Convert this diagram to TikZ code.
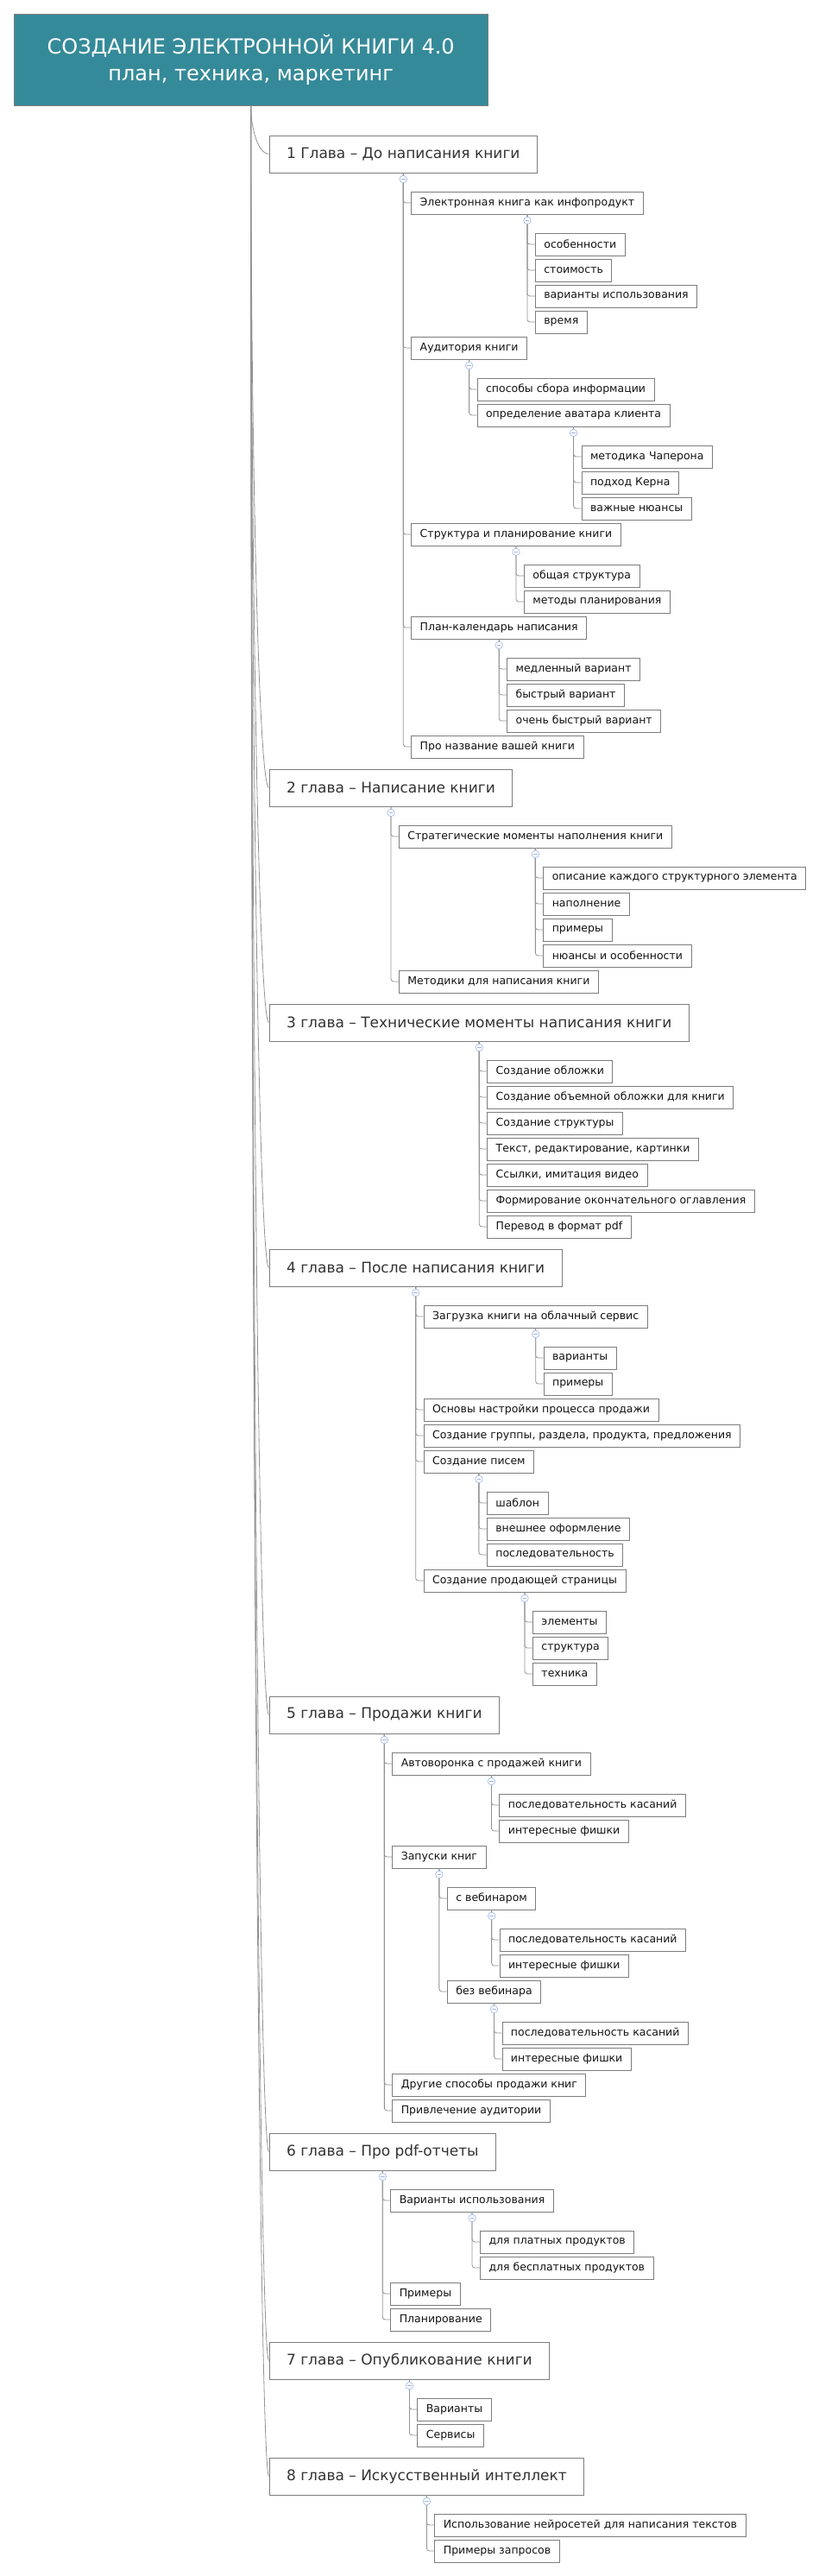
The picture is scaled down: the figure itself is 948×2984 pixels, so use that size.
\documentclass[tikz,border=0pt]{standalone}
\usepackage{fontspec}
\setmainfont{DejaVu Sans}
\usepackage{tikz}
\usetikzlibrary{calc}

\definecolor{rootteal}{HTML}{358A99}
\definecolor{boxline}{HTML}{7D7D7D}
\definecolor{linkgray}{HTML}{929292}
\definecolor{togblue}{HTML}{9DB3E6}
\definecolor{chaptext}{HTML}{333333}

\begin{document}
\begin{tikzpicture}[
  x=1pt, y=-1pt,
  rootbox/.style={draw=boxline, fill=rootteal, text=white, anchor=north west, minimum width=549pt, minimum height=106pt, align=center, font=\fontsize{24}{31}\selectfont},
  chap/.style={draw=boxline, line width=1pt, fill=white, anchor=north west, minimum height=43pt, inner xsep=20pt, inner ysep=0pt, text=chaptext, font=\fontsize{17}{20}\selectfont},
  sub/.style={draw=boxline, line width=0.9pt, fill=white, anchor=north west, xshift=9pt, minimum height=26pt, inner xsep=10pt, inner ysep=0pt, text=black!92, font=\fontsize{12.5}{15}\selectfont},
  trunk/.style={draw=linkgray, line width=0.8pt},
  branch/.style={draw=linkgray, line width=0.8pt, rounded corners=3pt},
  toggle/.style={circle, draw=togblue, fill=white, line width=0.6pt, minimum size=8.5pt, inner sep=0pt,
    path picture={\draw[togblue, line width=0.7pt] ([xshift=-2.3pt]path picture bounding box.center) -- ([xshift=2.3pt]path picture bounding box.center);}}
]
  \useasboundingbox (0,0) rectangle (948,2984);

  \node[rootbox] (root) at (16,16) {СОЗДАНИЕ ЭЛЕКТРОННОЙ КНИГИ 4.0\\план, техника, маркетинг};

  % 1
  \node[chap] (c1) at (311.6,156.5) {1 Глава – До написания книги};
  \node[sub] (c11) at (c1.south |- 0,221.5) {Электронная книга как инфопродукт};
  \node[sub] (c111) at (c11.south |- 0,269.5) {особенности};
  \node[sub] (c112) at (c11.south |- 0,299.5) {стоимость};
  \node[sub] (c113) at (c11.south |- 0,329.5) {варианты использования};
  \node[sub] (c114) at (c11.south |- 0,359.5) {время};
  \node[sub] (c12) at (c1.south |- 0,389.5) {Аудитория книги};
  \node[sub] (c121) at (c12.south |- 0,437.5) {способы сбора информации};
  \node[sub] (c122) at (c12.south |- 0,467.5) {определение аватара клиента};
  \node[sub] (c1221) at (c122.south |- 0,515.5) {методика Чаперона};
  \node[sub] (c1222) at (c122.south |- 0,545.5) {подход Керна};
  \node[sub] (c1223) at (c122.south |- 0,575.5) {важные нюансы};
  \node[sub] (c13) at (c1.south |- 0,605.5) {Структура и планирование книги};
  \node[sub] (c131) at (c13.south |- 0,653.5) {общая структура};
  \node[sub] (c132) at (c13.south |- 0,683.5) {методы планирования};
  \node[sub] (c14) at (c1.south |- 0,713.5) {План-календарь написания};
  \node[sub] (c141) at (c14.south |- 0,761.5) {медленный вариант};
  \node[sub] (c142) at (c14.south |- 0,791.5) {быстрый вариант};
  \node[sub] (c143) at (c14.south |- 0,821.5) {очень быстрый вариант};
  \node[sub] (c15) at (c1.south |- 0,851.5) {Про название вашей книги};

  % 2
  \node[chap] (c2) at (311.6,890.5) {2 глава – Написание книги};
  \node[sub] (c21) at (c2.south |- 0,955.5) {Стратегические моменты наполнения книги};
  \node[sub] (c211) at (c21.south |- 0,1003.5) {описание каждого структурного элемента};
  \node[sub] (c212) at (c21.south |- 0,1033.5) {наполнение};
  \node[sub] (c213) at (c21.south |- 0,1063.5) {примеры};
  \node[sub] (c214) at (c21.south |- 0,1093.5) {нюансы и особенности};
  \node[sub] (c22) at (c2.south |- 0,1123.5) {Методики для написания книги};

  % 3
  \node[chap] (c3) at (311.6,1162.5) {3 глава – Технические моменты написания книги};
  \node[sub] (c31) at (c3.south |- 0,1227.5) {Создание обложки};
  \node[sub] (c32) at (c3.south |- 0,1257.5) {Создание объемной обложки для книги};
  \node[sub] (c33) at (c3.south |- 0,1287.5) {Создание структуры};
  \node[sub] (c34) at (c3.south |- 0,1317.5) {Текст, редактирование, картинки};
  \node[sub] (c35) at (c3.south |- 0,1347.5) {Ссылки, имитация видео};
  \node[sub] (c36) at (c3.south |- 0,1377.5) {Формирование окончательного оглавления};
  \node[sub] (c37) at (c3.south |- 0,1407.5) {Перевод в формат pdf};

  % 4
  \node[chap] (c4) at (311.6,1446.5) {4 глава – После написания книги};
  \node[sub] (c41) at (c4.south |- 0,1511.5) {Загрузка книги на облачный сервис};
  \node[sub] (c411) at (c41.south |- 0,1559.5) {варианты};
  \node[sub] (c412) at (c41.south |- 0,1589.5) {примеры};
  \node[sub] (c42) at (c4.south |- 0,1619.5) {Основы настройки процесса продажи};
  \node[sub] (c43) at (c4.south |- 0,1649.5) {Создание группы, раздела, продукта, предложения};
  \node[sub] (c44) at (c4.south |- 0,1679.5) {Создание писем};
  \node[sub] (c441) at (c44.south |- 0,1727.5) {шаблон};
  \node[sub] (c442) at (c44.south |- 0,1757.5) {внешнее оформление};
  \node[sub] (c443) at (c44.south |- 0,1787.5) {последовательность};
  \node[sub] (c45) at (c4.south |- 0,1817.5) {Создание продающей страницы};
  \node[sub] (c451) at (c45.south |- 0,1865.5) {элементы};
  \node[sub] (c452) at (c45.south |- 0,1895.5) {структура};
  \node[sub] (c453) at (c45.south |- 0,1925.5) {техника};

  % 5
  \node[chap] (c5) at (311.6,1964.5) {5 глава – Продажи книги};
  \node[sub] (c51) at (c5.south |- 0,2029.5) {Автоворонка с продажей книги};
  \node[sub] (c511) at (c51.south |- 0,2077.5) {последовательность касаний};
  \node[sub] (c512) at (c51.south |- 0,2107.5) {интересные фишки};
  \node[sub] (c52) at (c5.south |- 0,2137.5) {Запуски книг};
  \node[sub] (c521) at (c52.south |- 0,2185.5) {с вебинаром};
  \node[sub] (c5211) at (c521.south |- 0,2233.5) {последовательность касаний};
  \node[sub] (c5212) at (c521.south |- 0,2263.5) {интересные фишки};
  \node[sub] (c522) at (c52.south |- 0,2293.5) {без вебинара};
  \node[sub] (c5221) at (c522.south |- 0,2341.5) {последовательность касаний};
  \node[sub] (c5222) at (c522.south |- 0,2371.5) {интересные фишки};
  \node[sub] (c53) at (c5.south |- 0,2401.5) {Другие способы продажи книг};
  \node[sub] (c54) at (c5.south |- 0,2431.5) {Привлечение аудитории};

  % 6
  \node[chap] (c6) at (311.6,2470.5) {6 глава – Про pdf-отчеты};
  \node[sub] (c61) at (c6.south |- 0,2535.5) {Варианты использования};
  \node[sub] (c611) at (c61.south |- 0,2583.5) {для платных продуктов};
  \node[sub] (c612) at (c61.south |- 0,2613.5) {для бесплатных продуктов};
  \node[sub] (c62) at (c6.south |- 0,2643.5) {Примеры};
  \node[sub] (c63) at (c6.south |- 0,2673.5) {Планирование};

  % 7
  \node[chap] (c7) at (311.6,2712.5) {7 глава – Опубликование книги};
  \node[sub] (c71) at (c7.south |- 0,2777.5) {Варианты};
  \node[sub] (c72) at (c7.south |- 0,2807.5) {Сервисы};

  % 8
  \node[chap] (c8) at (311.6,2846.5) {8 глава – Искусственный интеллект};
  \node[sub] (c81) at (c8.south |- 0,2911.5) {Использование нейросетей для написания текстов};
  \node[sub] (c82) at (c8.south |- 0,2941.5) {Примеры запросов};

  % links
  \foreach \i in {1,...,8}
    \draw[trunk] (root.south) .. controls ($(root.south)!0.5!(root.south |- c\i.west)$) and ($(c\i.west)+(-12pt,0pt)$) .. (c\i.west);

  \foreach \p/\c in {c1/c11, c1/c12, c1/c13, c1/c14, c1/c15,
      c11/c111, c11/c112, c11/c113, c11/c114, c12/c121, c12/c122,
      c122/c1221, c122/c1222, c122/c1223, c13/c131, c13/c132, c14/c141, c14/c142, c14/c143,
      c2/c21, c2/c22, c21/c211, c21/c212, c21/c213, c21/c214,
      c3/c31, c3/c32, c3/c33, c3/c34, c3/c35, c3/c36, c3/c37,
      c4/c41, c4/c42, c4/c43, c4/c44, c4/c45, c41/c411, c41/c412,
      c44/c441, c44/c442, c44/c443, c45/c451, c45/c452, c45/c453,
      c5/c51, c5/c52, c5/c53, c5/c54, c51/c511, c51/c512, c52/c521, c52/c522,
      c521/c5211, c521/c5212, c522/c5221, c522/c5222,
      c6/c61, c6/c62, c6/c63, c61/c611, c61/c612,
      c7/c71, c7/c72, c8/c81, c8/c82}
    \draw[branch] (\p.south) |- (\c.west);

  \foreach \p in {c1, c11, c12, c122, c13, c14, c2, c21, c3, c4, c41, c44, c45,
      c5, c51, c52, c521, c522, c6, c61, c7, c8}
    \node[toggle] (\p-tog) at ([yshift=-7pt]\p.south) {};
\end{tikzpicture}
\end{document}
